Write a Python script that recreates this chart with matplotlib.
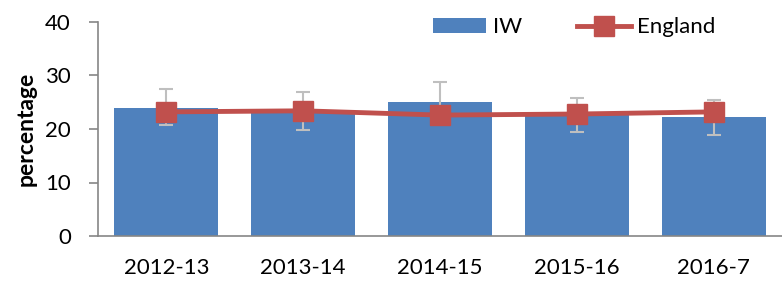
import matplotlib
matplotlib.use("Agg")
import matplotlib.pyplot as plt
from matplotlib.patches import Patch
from matplotlib.lines import Line2D
import numpy as np

categories = ["2012-13", "2013-14", "2014-15", "2015-16", "2016-7"]
iw = [23.9, 23.5, 25.1, 23.0, 22.2]
england = [23.2, 23.4, 22.6, 22.8, 23.2]
err_upper = [27.4, 27.0, 28.7, 25.8, 25.5]
err_lower = [20.7, 19.9, 21.3, 19.4, 18.9]
yticks = [0, 10, 20, 30, 40]

plt.rcParams['font.family'] = ['Lato', 'DejaVu Sans']

fig = plt.figure(figsize=(7.82, 2.81), dpi=100)
ax = fig.add_axes([98/782, 1-236/281, (782-98)/782, (236-22)/281])

x = np.arange(len(categories))
ax.bar(x, iw, width=0.76, color="#4F81BD", label="IW", zorder=2)
iw_arr = np.array(iw)
yerr = [iw_arr - np.array(err_lower), np.array(err_upper) - iw_arr]
ax.errorbar(x, iw, yerr=yerr, fmt="none", ecolor="#BFBFBF", elinewidth=1.5, capsize=5, capthick=1.5, zorder=3)
ax.plot(x, england, color="#C0504D", lw=3.5, marker="s", markersize=14,
        markerfacecolor="#C0504D", markeredgecolor="#C0504D", label="England", zorder=4)

ax.set_xlim(-0.5, len(categories) - 0.5)
ax.set_ylim(0, 40)
ax.set_yticks(yticks)
ax.set_xticks(x)
ax.set_xticklabels(categories)
ax.tick_params(axis="x", length=0, pad=16, labelsize=16)
ax.tick_params(axis="y", length=6.5, width=1.2, color="#868686", labelsize=16, pad=13)
for s in ["top", "right"]:
    ax.spines[s].set_visible(False)
for s in ["left", "bottom"]:
    ax.spines[s].set_color("#868686")
    ax.spines[s].set_linewidth(1.2)
ax.set_ylabel("percentage", fontsize=16.5, fontweight="bold", labelpad=6)

handles = [Patch(facecolor="#4F81BD", edgecolor="none"),
           Line2D([0], [0], color="#C0504D", lw=3.5, marker="s", markersize=14)]
leg = ax.legend(handles, ["IW", "England"], loc="upper left", bbox_to_anchor=(0.46, 1.115),
                ncol=2, frameon=False, fontsize=16, handlelength=2.4, handleheight=0.7,
                columnspacing=2.5, handletextpad=0.3)

fig.savefig("out.png", dpi=100)
